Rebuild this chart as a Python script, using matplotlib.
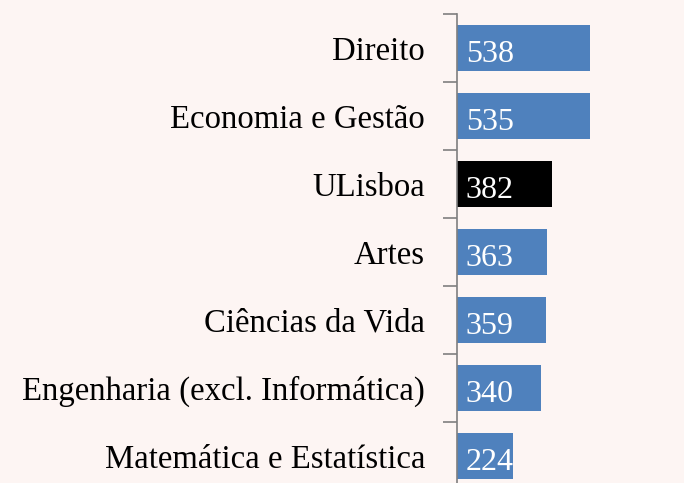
"""Horizontal bars: scores by field, ULisboa highlighted."""

import matplotlib
matplotlib.use('Agg')
import matplotlib.pyplot as plt

CATEGORIES = [
    'Direito',
    'Economia e Gestão',
    'ULisboa',
    'Artes',
    'Ciências da Vida',
    'Engenharia (excl. Informática)',
    'Matemática e Estatística',
]
VALUES = [538, 535, 382, 363, 359, 340, 224]
HIGHLIGHT = 'ULisboa'

BG = '#fdf5f3'
BAR_COLOR = '#4f81bd'
LABEL_SIZE = 23.6
VALUE_SIZE = 23


def main():
    plt.rcParams['font.family'] = ['Liberation Serif', 'DejaVu Serif']

    fig = plt.figure(figsize=(6.84, 4.83), dpi=100, facecolor=BG)
    # axes spans from the value axis at x=457px to the right edge
    ax = fig.add_axes([457 / 684, -7 / 483, 227 / 684, 476 / 483])
    ax.set_facecolor(BG)

    n = len(CATEGORIES)
    ypos = list(range(n))
    colors = ['black' if c == HIGHLIGHT else BAR_COLOR for c in CATEGORIES]
    ax.barh(ypos, VALUES, height=0.68, color=colors)

    # baseline sits a bit below the bar centre, like the original
    for y, v in zip(ypos, VALUES):
        ax.annotate(str(v), xy=(36, y), xytext=(0, -10),
                    textcoords='offset points', color='white',
                    fontsize=VALUE_SIZE, va='baseline', ha='left')

    ax.set_xlim(0, 915)
    ax.set_ylim(n - 0.5, -0.5)

    ax.set_yticks(ypos)
    ax.set_yticklabels(CATEGORIES, fontsize=LABEL_SIZE)
    ax.tick_params(axis='y', length=0, pad=23)
    # tick marks sit on the category boundaries
    ax.set_yticks([i - 0.5 for i in range(n + 1)], minor=True)
    ax.tick_params(axis='y', which='minor', length=10, width=1.2,
                   color='#7f7f7f')
    ax.set_xticks([])

    for side in ('top', 'right', 'bottom'):
        ax.spines[side].set_visible(False)
    ax.spines['left'].set_color('#7f7f7f')
    ax.spines['left'].set_linewidth(1.2)

    fig.savefig('out.png', dpi=100, facecolor=BG)


if __name__ == '__main__':
    main()
